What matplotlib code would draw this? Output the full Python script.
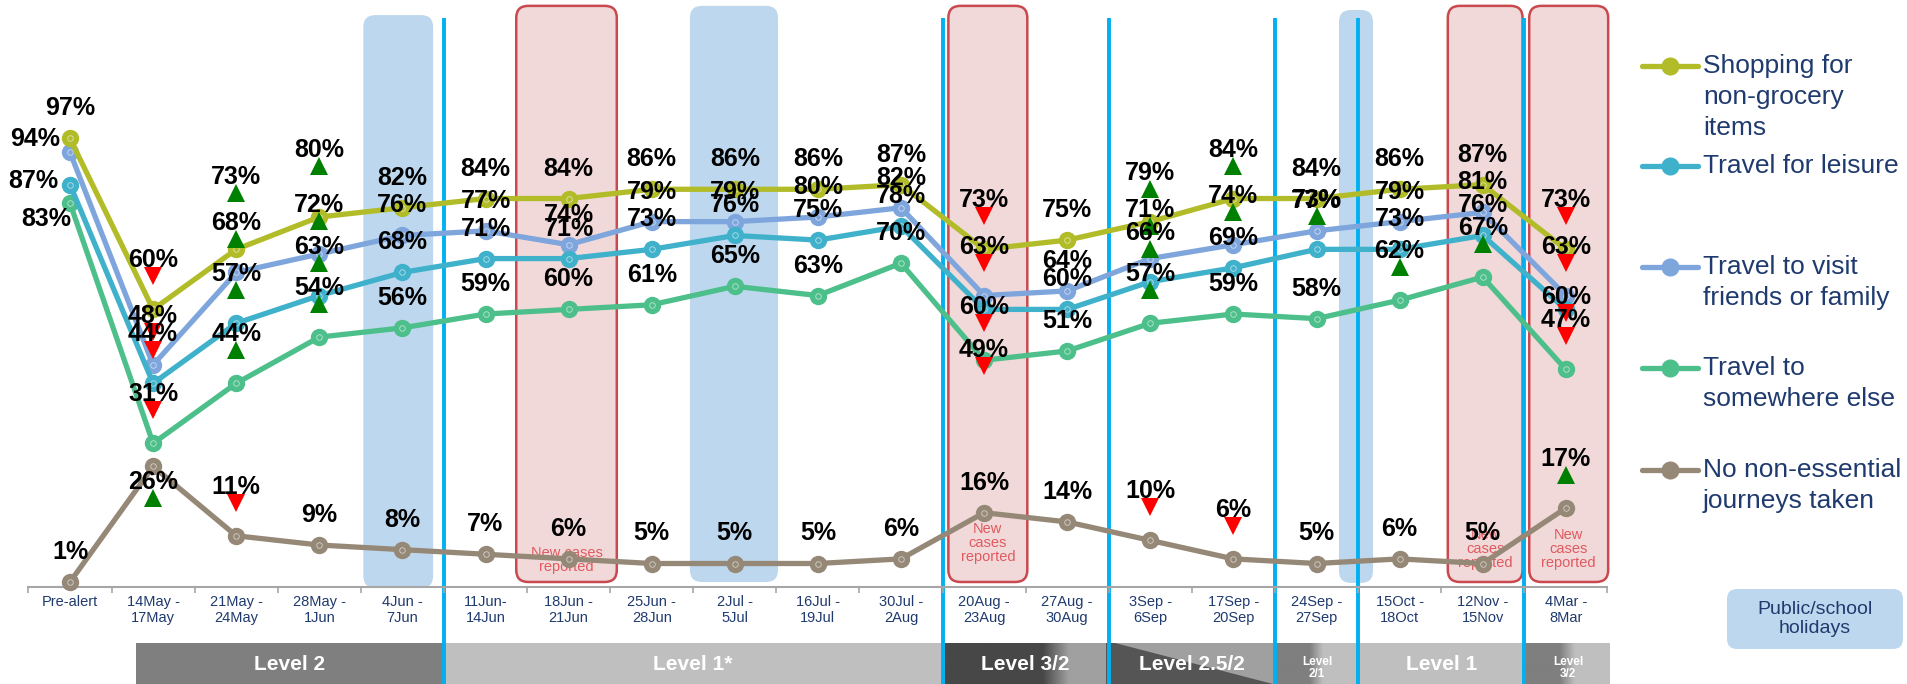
import numpy as np
import matplotlib
matplotlib.use("Agg")
import matplotlib.pyplot as plt
from matplotlib.patches import FancyBboxPatch, Rectangle, Polygon
from matplotlib.transforms import offset_copy
from matplotlib.colors import to_rgb

plt.rcParams['font.family'] = ['Liberation Sans', 'DejaVu Sans']

periods = ["Pre-alert", "14May -\n17May", "21May -\n24May", "28May -\n1Jun", "4Jun -\n7Jun",
           "11Jun-\n14Jun", "18Jun -\n21Jun", "25Jun -\n28Jun", "2Jul -\n5Jul", "16Jul -\n19Jul",
           "30Jul -\n2Aug", "20Aug -\n23Aug", "27Aug -\n30Aug", "3Sep -\n6Sep", "17Sep -\n20Sep",
           "24Sep -\n27Sep", "15Oct -\n18Oct", "12Nov -\n15Nov", "4Mar -\n8Mar"]

shopping = [97, 60, 73, 80, 82, 84, 84, 86, 86, 86, 87, 73, 75, 79, 84, 84, 86, 87, 73]
leisure = [87, 44, 57, 63, 68, 71, 71, 73, 76, 75, 78, 60, 60, 66, 69, 73, 73, 76, 60]
friends = [94, 48, 68, 72, 76, 77, 74, 79, 79, 80, 82, 63, 64, 71, 74, 77, 79, 81, 63]
somewhere = [83, 31, 44, 54, 56, 59, 60, 61, 65, 63, 70, 49, 51, 57, 59, 58, 62, 67, 47]
no_trips = [1, 26, 11, 9, 8, 7, 6, 5, 5, 5, 6, 16, 14, 10, 6, 5, 6, 5, 17]

# significant change vs previous wave: 1 up, -1 down, 0 none
shopping_sig = [0, -1, 1, 1, 0, 0, 0, 0, 0, 0, 0, -1, 0, 1, 1, 0, 0, 0, -1]
leisure_sig = [0, -1, 1, 1, 0, 0, 0, 0, 0, 0, 0, -1, 0, 1, 0, 1, 0, 0, -1]
friends_sig = [0, -1, 1, 1, 0, 0, 0, 0, 0, 0, 0, -1, 0, 1, 1, 0, 0, 0, -1]
somewhere_sig = [0, -1, 1, 1, 0, 0, 0, 0, 0, 0, 0, -1, 0, 1, 0, 0, 1, 1, -1]
no_trips_sig = [0, 1, -1, 0, 0, 0, 0, 0, 0, 0, 0, 0, 0, -1, -1, 0, 0, 0, 1]

legend_names = ["Shopping for\nnon-grocery\nitems", "Travel for leisure",
                "Travel to visit\nfriends or family", "Travel to\nsomewhere else",
                "No non-essential\njourneys taken"]

alert_levels = ["Level 2", "Level 1*", "Level 3/2", "Level 2.5/2", "Level\n2/1", "Level 1", "Level\n3/2"]
level_changes = [4.5, 10.5, 12.5, 14.5, 15.5, 17.5]

series = [
    ("shopping", shopping, shopping_sig, "#B1BC28"),
    ("leisure", leisure, leisure_sig, "#40B1CB"),
    ("friends", friends, friends_sig, "#7EA6DD"),
    ("somewhere", somewhere, somewhere_sig, "#4DBF8B"),
    ("none", no_trips, no_trips_sig, "#958877"),
]

# hand nudges (pixels, up positive) for crowded labels
nudge = {
    ("friends", 0): (-35, -17), ("leisure", 0): (-37, -26), ("somewhere", 0): (-24, -46),
    ("none", 1): (0, -65), ("shopping", 2): (0, 23), ("shopping", 3): (0, 18),
    ("leisure", 11): (0, -47), ("somewhere", 11): (0, -39), ("leisure", 18): (0, -37),
}

navy = "#1F3A6E"
W, H = 1907, 684
X0, DX = 70.0, 83.1     # pixel x of first period, spacing
Y0, DY = 586.6, 4.62    # pixel y of 0 %, pixels per point


def px(i):
    return X0 + DX * i


def py(v):
    return Y0 - DY * v


fig = plt.figure(figsize=(W / 100, H / 100), dpi=100)

# background layer in pixel units: shaded periods, alert level band, legend
deco = fig.add_axes([0, 0, 1, 1])
deco.set_xlim(0, W)
deco.set_ylim(H, 0)
deco.axis("off")

holidays = [(3.53, 4.37, 123.7, -0.3), (7.46, 8.52, 125.7, 1.0), (15.27, 15.68, 124.8, 0.8)]
for a, b, top, bot in holidays:
    deco.add_patch(FancyBboxPatch((px(a), py(top)), px(b) - px(a), py(bot) - py(top),
                                  boxstyle="round,pad=0,rounding_size=12",
                                  fc="#BDD7EE", ec="none"))

new_cases = [(5.37, 6.58, "New cases\nreported"), (10.57, 11.52, "New\ncases\nreported"),
             (16.58, 17.48, "New\ncases\nreported"), (17.56, 18.51, "New\ncases\nreported")]
case_text_y = [560, 543, 549, 549]
for (a, b, txt), ty in zip(new_cases, case_text_y):
    deco.add_patch(FancyBboxPatch((px(a), py(125.7)), px(b) - px(a), py(1.0) - py(125.7),
                                  boxstyle="round,pad=0,rounding_size=12",
                                  fc="#F2D9D9", ec="#C8494E", lw=1.8))
    deco.text((px(a) + px(b)) / 2, ty, txt, ha="center", va="center", fontsize=10.5,
              color="#E05A5F", linespacing=1.0)

# alert level band
BT, BB = 643, 684


def band(x0, x1, c0, c1=None, g0=None, g1=None):
    if c1 is None:
        deco.add_patch(Rectangle((x0, BT), x1 - x0, BB - BT, fc=c0, ec="none"))
        return
    xs = np.linspace(x0, x1, 300)
    t = np.clip((xs - g0) / (g1 - g0), 0, 1)[:, None]
    img = np.array(to_rgb(c0)) * (1 - t) + np.array(to_rgb(c1)) * t
    deco.imshow(img[None, :, :], extent=(x0, x1, BB, BT), aspect="auto", interpolation="bilinear")


band(136, 444, "#7F7F7F")
band(444, 945, "#BFBFBF")
band(945, 1106, "#474747", "#A0A0A0", 1043, 1069)
band(1106, 1274, "#A0A0A0")
deco.add_patch(Polygon([(1106, BT), (1115, BT), (1273, BB), (1106, BB)], fc="#555555", ec="none"))
band(1274, 1358, "#7F7F7F", "#BFBFBF", 1310, 1323)
band(1358, 1525, "#BFBFBF")
band(1525, 1610, "#7F7F7F", "#BFBFBF", 1560, 1575)
deco.set_xlim(0, W)
deco.set_ylim(H, 0)

level_x = [290, 693, 1025, 1192, 1317, 1442, 1568]
for name, lx in zip(alert_levels, level_x):
    small = "\n" in name
    deco.text(lx, 664 if not small else 668, name, ha="center", va="center", color="white",
              fontsize=8.5 if small else 15, fontweight="bold", linespacing=1.0,
              family=["Liberation Sans Narrow", "Liberation Sans"])

# legend
leg_y = [66, 166, 267, 368, 470]
for (key, vals, sig, col), name, ly in zip(series, legend_names, leg_y):
    deco.plot([1642, 1698], [ly, ly], color=col, lw=3.8, solid_capstyle="round")
    deco.plot(1670, ly, "o", ms=12, color=col)
    for k, line in enumerate(name.split("\n")):
        deco.text(1703, ly + 31 * k, line, ha="left", va="center", fontsize=19, color=navy)

deco.add_patch(FancyBboxPatch((1727, 589), 176, 60, boxstyle="round,pad=0,rounding_size=10",
                              fc="#BDD7EE", ec="none"))
deco.text(1815, 619, "Public/school\nholidays", ha="center", va="center", fontsize=14,
          color=navy, linespacing=1.1)

# main chart
ax = fig.add_axes([(X0 - DX / 2) / W, 0, DX * len(periods) / W, 1])
ax.set_xlim(-0.5, len(periods) - 0.5)
ax.set_ylim(-(H - Y0) / DY, Y0 / DY)
ax.patch.set_alpha(0)
for s in ["top", "left", "right"]:
    ax.spines[s].set_visible(False)
ax.spines["bottom"].set_position(("data", 0))
ax.spines["bottom"].set_color("#A6A6A6")
ax.spines["bottom"].set_linewidth(1.5)
ax.set_yticks([])
x = np.arange(len(periods))
ax.set_xticks(x)
ax.set_xticklabels(periods, fontsize=10.5, color=navy, linespacing=1.15)
ax.set_xticks(np.arange(-0.5, len(periods), 1), minor=True)
ax.tick_params(axis="x", which="major", length=0, pad=6)
ax.tick_params(axis="x", which="minor", length=4, width=1.2, color="#A6A6A6")

ax.vlines(level_changes, ax.get_ylim()[0], (Y0 - 18) / DY, color="#00B0F0", lw=2.8, zorder=1)

for key, vals, sig, col in reversed(series):
    ax.plot(x, vals, color=col, lw=3.8, marker="o", ms=11.5, zorder=3)
    ax.plot(x, vals, "o", ms=4, mfc="none", mec="white", mew=0.6, alpha=0.6, zorder=3)

for key, vals, sig, col in series:
    for i, (v, s) in enumerate(zip(vals, sig)):
        dx, dy = nudge.get((key, i), (0, 0))
        up = (51 if s else 32) + dy
        ax.annotate(f"{v}%", (i, v), xytext=(dx, up - 9), textcoords="offset pixels",
                    ha="center", va="baseline", fontsize=18, fontweight="bold",
                    color="black", zorder=10)
        if s:
            tr = offset_copy(ax.transData, fig=fig, x=dx, y=33 + dy, units="dots")
            ax.plot(i, v, marker="^" if s > 0 else "v", ms=12.5, mew=0,
                    color="#008000" if s > 0 else "#FF0000", transform=tr, zorder=9)

fig.savefig("out.png", dpi=100)
